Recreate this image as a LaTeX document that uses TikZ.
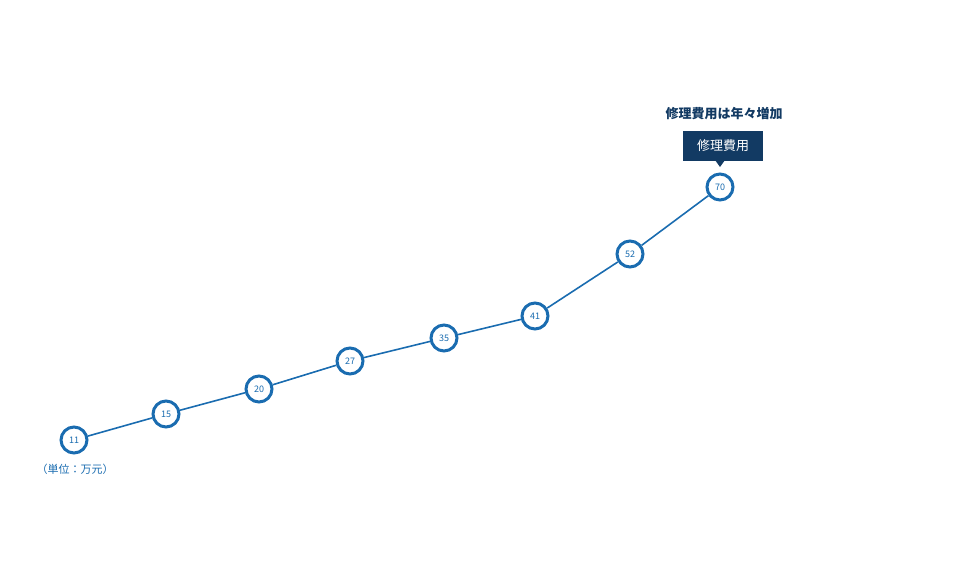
\documentclass[tikz,border=0pt]{standalone}
\usepackage{fontspec}
\setmainfont{Noto Sans CJK JP}
\newfontfamily\cjk{Noto Sans CJK JP}
\definecolor{lineblue}{HTML}{1A6CB0}
\definecolor{navy}{HTML}{123A63}
\begin{document}
\begin{tikzpicture}[x=1pt,y=-1pt,
  pt/.style={circle,draw=lineblue,line width=3pt,fill=white,minimum size=26pt,inner sep=0pt,text=lineblue,font=\fontsize{9}{10}\selectfont},
  conn/.style={lineblue,line width=1.6pt}]
\useasboundingbox (0,0) rectangle (960,565);
\node[pt] (a) at (74,440) {11};
\node[pt] (b) at (166,414) {15};
\node[pt] (c) at (259,389) {20};
\node[pt] (d) at (350,361) {27};
\node[pt] (e) at (444,338) {35};
\node[pt] (f) at (535,316) {41};
\node[pt] (g) at (630,254) {52};
\node[pt] (h) at (720,187) {70};
\begin{scope}[on background layer/.style={}]
\end{scope}
\draw[conn] (a)--(b) (b)--(c) (c)--(d) (d)--(e) (e)--(f) (f)--(g) (g)--(h);
\node[fill=navy,text=white,minimum width=80pt,minimum height=30pt,inner sep=0pt,font=\fontsize{13}{14}\selectfont] (tip) at (723,146) {修理費用};
\fill[navy] (715,160) -- (725,160) -- (720,167) -- cycle;
\node[text=navy,font=\fontsize{13}{14}\selectfont\bfseries] (title) at (724,114) {修理費用は年々増加};
\node[text=lineblue,font=\fontsize{11}{12}\selectfont] (unit) at (75,469) {（単位：万元）};
\end{tikzpicture}
\end{document}
